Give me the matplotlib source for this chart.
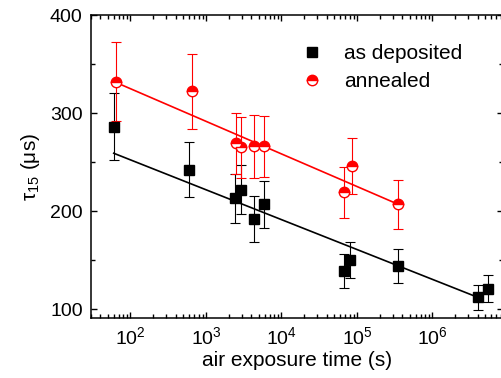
import numpy as np
import matplotlib
matplotlib.use("Agg")
import matplotlib.pyplot as plt
from matplotlib.ticker import LogLocator, MultipleLocator, NullFormatter

plt.rcParams['font.family'] = ['Liberation Sans', 'DejaVu Sans']
plt.rcParams['mathtext.fontset'] = 'custom'
plt.rcParams['mathtext.rm'] = 'Liberation Sans'
plt.rcParams['mathtext.it'] = 'Liberation Sans:italic'

# as deposited
dep_t = [60, 600, 2450, 2950, 4300, 5800, 6.8e4, 8.2e4, 3.5e5, 4.0e6, 5.4e6]
dep_tau = [286, 242, 213, 222, 192, 207, 139, 150, 144, 112, 121]
dep_err = [34, 28, 25, 25, 23, 24, 17, 18, 17, 13, 14]
dep_fit = (313.2, -30.47)      # intercept, slope per decade
dep_fit_range = (60, 4.0e6)

# annealed
ann_t = [65, 660, 2500, 2950, 4300, 5800, 6.8e4, 8.5e4, 3.5e5]
ann_tau = [332, 322, 269, 265, 266, 266, 219, 246, 207]
ann_err = [40, 38, 31, 31, 32, 31, 26, 29, 25]
ann_fit = (391.3, -33.24)
ann_fit_range = (65, 3.5e5)

W, H = 501, 378
fig = plt.figure(figsize=(W / 100, H / 100), dpi=100)
ax = fig.add_axes([91 / W, (H - 318) / H, (503 - 91) / W, (318 - 15) / H])


def fit_line(fit, rng):
    xs = np.log10(rng)
    return np.array(rng), fit[0] + fit[1] * xs


# black series
xf, yf = fit_line(dep_fit, dep_fit_range)
ax.plot(xf, yf, color='black', lw=1.2, zorder=2)
ax.errorbar(dep_t, dep_tau, yerr=dep_err, fmt='none', ecolor='black',
            elinewidth=0.8, capsize=3.5, capthick=0.8, zorder=3)
ax.plot(dep_t, dep_tau, 's', color='black', ms=6.5, ls='none',
        label='as deposited', zorder=4)

# red series
xf, yf = fit_line(ann_fit, ann_fit_range)
ax.plot(xf, yf, color='red', lw=1.2, zorder=2)
ax.errorbar(ann_t, ann_tau, yerr=ann_err, fmt='none', ecolor='red',
            elinewidth=0.8, capsize=3.5, capthick=0.8, zorder=3)
ax.plot(ann_t, ann_tau, 'o', color='red', ms=7.5, ls='none',
        fillstyle='top', markerfacecoloralt='white', markeredgecolor='red',
        markeredgewidth=1.0, label='annealed', zorder=4)

ax.set_xscale('log')
ax.set_xlim(30, 8.6e6)
ax.set_ylim(91, 400)
ax.xaxis.set_major_locator(LogLocator(base=10, numticks=20))
ax.xaxis.set_minor_locator(LogLocator(base=10, subs=np.arange(2, 10), numticks=20))
ax.xaxis.set_minor_formatter(NullFormatter())
ax.yaxis.set_major_locator(MultipleLocator(100))
ax.yaxis.set_minor_locator(MultipleLocator(50))

ax.tick_params(which='both', direction='in', top=True, right=True,
               labelsize=14, width=1.0)
ax.tick_params(which='major', length=4.5, pad=6)
ax.tick_params(which='minor', length=2.8)
for s in ax.spines.values():
    s.set_linewidth(1.1)

ax.set_xlabel('air exposure time (s)', fontsize=15, labelpad=2)
ax.set_ylabel(r'τ$_{15}$ (μs)', fontsize=15, labelpad=6)

ax.legend(loc='upper left', bbox_to_anchor=(302 / W, (H - 44) / H),
          bbox_transform=fig.transFigure, frameon=False, fontsize=15,
          numpoints=1, handlelength=1.0, handletextpad=1.0,
          labelspacing=0.45, borderpad=0, borderaxespad=0)

fig.savefig('out.png', dpi=100)
